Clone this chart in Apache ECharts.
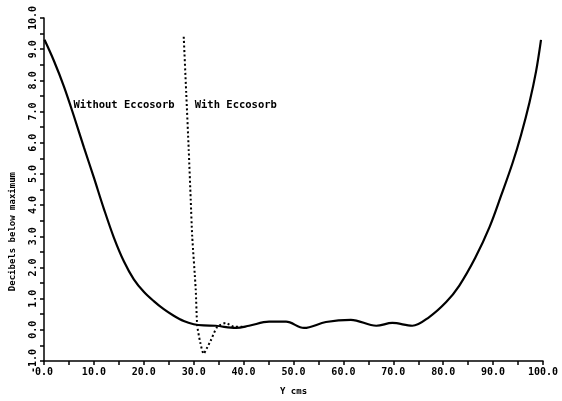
<!DOCTYPE html>
<html>
<head>
<meta charset="utf-8">
<script src="https://cdn.jsdelivr.net/npm/echarts@6/dist/echarts.min.js"></script>
<style>
html,body{margin:0;padding:0;background:#fff;}
#c{width:562px;height:401px;}
</style>
</head>
<body>
<div id="c"></div>
<script>
// Data
const withoutX = [0.1, 2.0, 4.0, 6.0, 8.0, 10.0, 12.0, 14.0, 16.0, 18.0, 20.0, 22.0, 24.0, 26.0, 28.0, 30.0, 32.0, 34.4, 38.5, 41.1, 45.1, 48.5, 52.1, 56.5, 61.5, 66.6, 69.8, 73.8, 77.2, 80.6, 83.2, 86.4, 89.3, 91.6, 93.9, 95.6, 97.3, 98.6, 99.6];
const withoutY = [9.3, 8.62, 7.8, 6.85, 5.85, 4.88, 3.88, 2.96, 2.2, 1.62, 1.22, 0.92, 0.66, 0.45, 0.28, 0.18, 0.14, 0.13, 0.06, 0.13, 0.26, 0.26, 0.06, 0.25, 0.32, 0.13, 0.22, 0.13, 0.41, 0.89, 1.41, 2.3, 3.3, 4.3, 5.35, 6.25, 7.3, 8.28, 9.3];
const withX = [28.0, 28.5, 29.0, 29.4, 29.7, 30.4, 30.7, 31.3, 32.0, 32.6, 33.4, 34.7, 36.4, 38.1, 40.0];
const withY = [9.4, 7.6, 5.78, 4.18, 3.0, 1.31, 0.15, -0.4, -0.77, -0.6, -0.35, 0.09, 0.22, 0.1, 0.1];
const xTicks = {min: 0, max: 100, interval: 10};
const yTicks = {min: -1, max: 10, interval: 1};
const annotations = [
  {text: 'Without Eccosorb', x: 5.9, y: 7.2},
  {text: 'With Eccosorb', x: 30.2, y: 7.2}
];
const xTitle = 'Y cms';
const yTitle = 'Decibels below maximum';

const font = '"DejaVu Sans Mono", monospace';
const chart = echarts.init(document.getElementById('c'), null, {renderer: 'canvas'});
const axisCommon = {
  axisLine: {show: true, onZero: false, lineStyle: {color: '#000', width: 1.5}},
  axisTick: {show: true, inside: false, length: 4, lineStyle: {color: '#000', width: 1.5}},
  minorTick: {show: true, splitNumber: 2, length: 4, lineStyle: {color: '#000', width: 1.5}},
  splitLine: {show: false},
  minorSplitLine: {show: false}
};
chart.setOption({
  animation: false,
  backgroundColor: '#fff',
  grid: {left: 44, right: 19, top: 18, bottom: 39},
  xAxis: Object.assign({
    type: 'value', min: xTicks.min, max: xTicks.max, interval: xTicks.interval,
    name: xTitle, nameLocation: 'middle', nameGap: 26,
    nameTextStyle: {fontFamily: font, fontWeight: 'bold', fontSize: 9, color: '#000'},
    axisLabel: {fontFamily: font, fontWeight: 'bold', fontSize: 10, color: '#000', margin: 6,
      formatter: v => v.toFixed(1)}
  }, axisCommon),
  yAxis: Object.assign({
    type: 'value', min: yTicks.min, max: yTicks.max, interval: yTicks.interval,
    name: '',
    axisLabel: {fontFamily: font, fontWeight: 'bold', fontSize: 10, color: '#000', margin: 6, rotate: 90,
      formatter: v => v.toFixed(1)}
  }, axisCommon),
  series: [
    {type: 'line', data: withoutX.map((x, i) => [x, withoutY[i]]), smooth: 0.35, symbol: 'none',
     lineStyle: {color: '#000', width: 2.2}},
    {type: 'line', data: withX.map((x, i) => [x, withY[i]]), smooth: 0.2, symbol: 'none',
     lineStyle: {color: '#000', width: 2, type: [2, 2.5]}}
  ]
});
const g = annotations.map(a => {
  const p = chart.convertToPixel({gridIndex: 0}, [a.x, a.y]);
  return {type: 'text', left: p[0], top: p[1] - 6,
    style: {text: a.text, fontFamily: font, fontWeight: 'bold', fontSize: 10.5, fill: '#000'}};
});
const yMid = chart.convertToPixel({gridIndex: 0}, [0, 3.15]);
g.push({type: 'text', x: 13, y: yMid[1], rotation: Math.PI / 2,
  style: {text: yTitle, fontFamily: font, fontWeight: 'bold', fontSize: 9, fill: '#000',
    align: 'center', verticalAlign: 'middle'}});
chart.setOption({graphic: g});
</script>
</body>
</html>
